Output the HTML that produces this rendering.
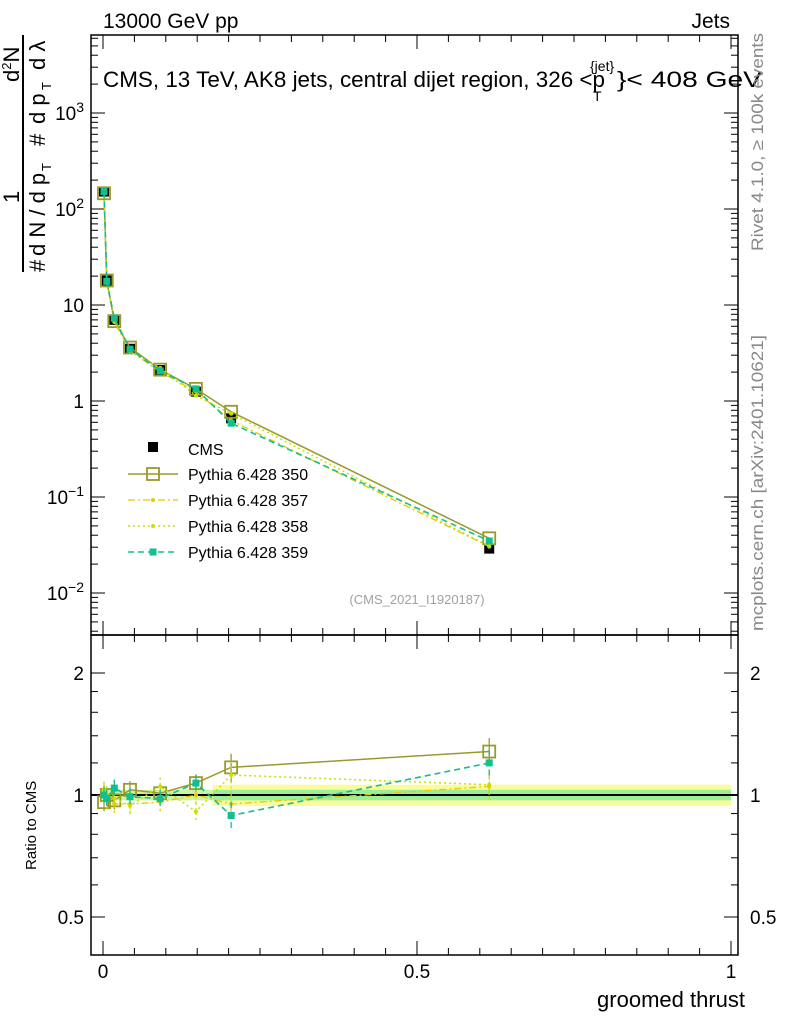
<!DOCTYPE html>
<html><head><meta charset="utf-8">
<style>
body{margin:0;background:#fff;}
svg{display:block;font-family:"Liberation Sans",sans-serif;}
</style></head>
<body>
<svg id="c" width="786" height="1024" viewBox="0 0 786 1024">
</svg>
<script>
const xs = [0.0016, 0.006, 0.018, 0.043, 0.091, 0.148, 0.204, 0.615];
const cms = [152, 18.0, 7.0, 3.5, 2.1, 1.25, 0.66, 0.029];
const r350 = [0.96, 1.0, 0.97, 1.03, 1.01, 1.07, 1.17, 1.28];
const r357 = [1.02, 0.97, 0.95, 0.95, 0.96, 1.0, 0.95, 1.05];
const r358 = [1.03, 1.0, 0.98, 0.94, 1.05, 0.91, 1.12, 1.06];
const r359 = [1.0, 0.98, 1.04, 0.99, 0.98, 1.07, 0.89, 1.2];
const seriesNames = ["Pythia 6.428 350","Pythia 6.428 357","Pythia 6.428 358","Pythia 6.428 359"];
const xTicks = [0, 0.5, 1];
const xTickLabels = ["0","0.5","1"];

const NS="http://www.w3.org/2000/svg";
const svg=document.getElementById('c');
const L=91,R=738,T=35,MB=635,RB=955;
function X(v){return 103+v*628;}
function Y(v){return 401-Math.log10(v)*96;}
function YR(v){return 795-Math.log2(v)*122;}
function el(tag,attrs,parent){const e=document.createElementNS(NS,tag);for(const k in attrs)e.setAttribute(k,attrs[k]);(parent||svg).appendChild(e);return e;}
function txt(s,attrs,parent){const e=el('text',attrs,parent);e.textContent=s;return e;}

const band=el('g',{});


el('rect',{x:X(0.175),y:YR(1.06),width:X(1)-X(0.175),height:YR(0.94)-YR(1.06),fill:'#fbfb99'},band);
el('rect',{x:X(0.175),y:YR(1.03),width:X(1)-X(0.175),height:YR(0.97)-YR(1.03),fill:'#99f099'},band);
el('rect',{x:X(0),y:YR(1.03),width:X(0.175)-X(0),height:YR(0.97)-YR(1.03),fill:'#ccf5a0'},band);
el('line',{x1:L,x2:R,y1:YR(1),y2:YR(1),stroke:'#000','stroke-width':2});

const f1=el('rect',{x:L,y:T,width:R-L,height:MB-T,fill:'none',stroke:'#000','stroke-width':1.5});

const f2=el('rect',{x:L,y:MB,width:R-L,height:RB-MB,fill:'none',stroke:'#000','stroke-width':1.5});


for(let d=-3;d<=3;d++){for(let m=1;m<10;m++){const v=m*Math.pow(10,d);const y=Y(v);if(y<T||y>MB)continue;const len=m==1?14:7;
el('line',{x1:L,x2:L+len,y1:y,y2:y,stroke:'#000'});el('line',{x1:R,x2:R-len,y1:y,y2:y,stroke:'#000'});}}
const ylab=[[1000,'10','3'],[100,'10','2'],[10,'10',''],[1,'1',''],[0.1,'10','−1'],[0.01,'10','−2']];
ylab.forEach(a=>{const t=txt('',{x:84,y:Y(a[0])+7,'font-size':19,'text-anchor':'end'});
 if(a[0]==10){t.textContent='10';}else if(a[0]==1){t.textContent='1';}else{const s1=el('tspan',{},t);s1.textContent=a[1];const s2=el('tspan',{dy:-8,'font-size':14},t);s2.textContent=a[2];}});
[0.5,0.6,0.7,0.8,0.9,1,1.2,1.4,1.6,1.8,2].forEach(v=>{const y=YR(v);const len=(v==0.5||v==1||v==2)?14:7;el('line',{x1:L,x2:L+len,y1:y,y2:y,stroke:'#000'});el('line',{x1:R,x2:R-len,y1:y,y2:y,stroke:'#000'});});
[[2,'2'],[1,'1'],[0.5,'0.5']].forEach(a=>{const t=txt(a[1],{x:84,y:YR(a[0])+7,'font-size':19,'text-anchor':'end'});
const t2=txt(a[1],{x:750,y:YR(a[0])+7,'font-size':19});});
for(let i=0;i<=20;i++){const v=i*0.05;const x=X(v);if(x>R)continue;const len=i%10==0?14:7;
[MB,RB].forEach(b=>{el('line',{x1:x,x2:x,y1:b,y2:b-len,stroke:'#000'});});el('line',{x1:x,x2:x,y1:T,y2:T+len,stroke:'#000'});el('line',{x1:x,x2:x,y1:MB,y2:MB+len,stroke:'#000'});}
xTicks.forEach((v,i)=>{const t=txt(xTickLabels[i],{x:X(v),y:978,'font-size':19,'text-anchor':'middle'});});

const styles=[
 {c:'#9a9a2a',dash:'',w:1.5,mk:'box'},
 {c:'#e8c800',dash:'7,3,2,3',w:1.3,mk:'tri'},
 {c:'#c8e000',dash:'2,3',w:1.5,mk:'dot'},
 {c:'#10c090',dash:'6,4',w:1.6,mk:'sq'}];
const ratios=[r350,r357,r358,r359];
function marker(g,s,x,y){if(s.mk=='box')el('rect',{x:x-6,y:y-6,width:12,height:12,fill:'none',stroke:s.c,'stroke-width':1.8},g);
 else if(s.mk=='sq')el('rect',{x:x-3.5,y:y-3.5,width:7,height:7,fill:s.c},g);
 else el('circle',{cx:x,cy:y,r:2,fill:s.c},g);}
const cg=el('g',{});
cms.forEach((v,i)=>{el('rect',{x:X(xs[i])-5,y:Y(v)-5,width:10,height:10,fill:'#000'},cg);});
ratios.forEach((r,k)=>{const s=styles[k];
 const g=el('g',{});
 const pm=xs.map((x,i)=>X(x)+','+Y(cms[i]*r[i])).join(' ');
 el('polyline',{points:pm,fill:'none',stroke:s.c,'stroke-width':s.w,'stroke-dasharray':s.dash},g);
 xs.forEach((x,i)=>marker(g,s,X(x),Y(cms[i]*r[i])));
 const pr=xs.map((x,i)=>X(x)+','+YR(r[i])).join(' ');
 el('polyline',{points:pr,fill:'none',stroke:s.c,'stroke-width':s.w,'stroke-dasharray':s.dash},g);
 xs.forEach((x,i)=>{const e=0.05+0.03*(i==7?1:0)+0.03*(i==6?1:0);el('line',{x1:X(x),x2:X(x),y1:YR(r[i]*(1+e)),y2:YR(r[i]*(1-e)),stroke:s.c,'stroke-width':1.3,'stroke-dasharray':s.dash},g);marker(g,s,X(x),YR(r[i]));});
});

const lg=el('g',{});
el('rect',{x:148,y:442,width:10,height:10,fill:'#000'},lg);
txt('CMS',{x:188,y:455,'font-size':16},lg);
styles.forEach((s,k)=>{const y=474+k*26;
 el('line',{x1:128,x2:178,y1:y,y2:y,stroke:s.c,'stroke-width':s.w,'stroke-dasharray':s.dash},lg);
 marker(lg,s,153,y);
 txt(seriesNames[k],{x:188,y:y+6,'font-size':16},lg);});

function T2(s,a,name){const t=txt(s,a);return t;}
T2('13000 GeV pp',{x:103,y:28,'font-size':21},'header-left');
T2('Jets',{x:730,y:28,'font-size':21,'text-anchor':'end'},'header-right');
T2('CMS, 13 TeV, AK8 jets, central dijet region, 326 <p',{x:103,y:87,'font-size':22,textLength:502,lengthAdjust:'spacingAndGlyphs'},'plot-title');
T2('{jet}',{x:590,y:71,'font-size':14},'plot-title-superscript');
T2('T',{x:593,y:101,'font-size':14},'plot-title-subscript');
T2('}< 408 GeV',{x:617,y:87,'font-size':22,textLength:145,lengthAdjust:'spacingAndGlyphs'},'plot-title-end');
T2('(CMS_2021_I1920187)',{x:417,y:604,'font-size':13,fill:'#a0a0a0','text-anchor':'middle'},'analysis-id');
T2('groomed thrust',{x:745,y:1007,'font-size':22,'text-anchor':'end'},'x-axis-title');
T2('Ratio to CMS',{x:0,y:0,'font-size':15,transform:'translate(36,870) rotate(-90)'},'ratio-axis-title');
const yg=el('g',{transform:'rotate(-90)'});
txt('1',{x:-203,y:19,'font-size':22},yg);
const dn=txt('d',{x:-82,y:19,'font-size':22},yg);
const sup=el('tspan',{dy:-8,'font-size':13},dn);sup.textContent='2';
const nn=el('tspan',{dy:8,'font-size':22},dn);nn.textContent='N';
el('line',{x1:-272,x2:-35,y1:23,y2:23,stroke:'#000','stroke-width':2},yg);
txt('#',{x:-272,y:45,'font-size':22},yg);
txt('d N / d p',{x:-256,y:45,'font-size':22},yg);
txt('T',{x:-171,y:51,'font-size':13},yg);
txt('#',{x:-146,y:45,'font-size':22},yg);
txt('d p',{x:-124,y:45,'font-size':22},yg);
txt('T',{x:-90,y:51,'font-size':13},yg);
txt('d λ',{x:-70,y:45,'font-size':22},yg);
T2('Rivet 4.1.0, ≥ 100k events',{x:0,y:0,'font-size':17,fill:'#888',textLength:218,lengthAdjust:'spacingAndGlyphs',transform:'translate(763,251) rotate(-90)'},'rivet-label');
T2('mcplots.cern.ch [arXiv:2401.10621]',{x:0,y:0,'font-size':17,fill:'#888',textLength:296,lengthAdjust:'spacingAndGlyphs',transform:'translate(763,631) rotate(-90)'},'mcplots-label');
</script>
</body></html>
